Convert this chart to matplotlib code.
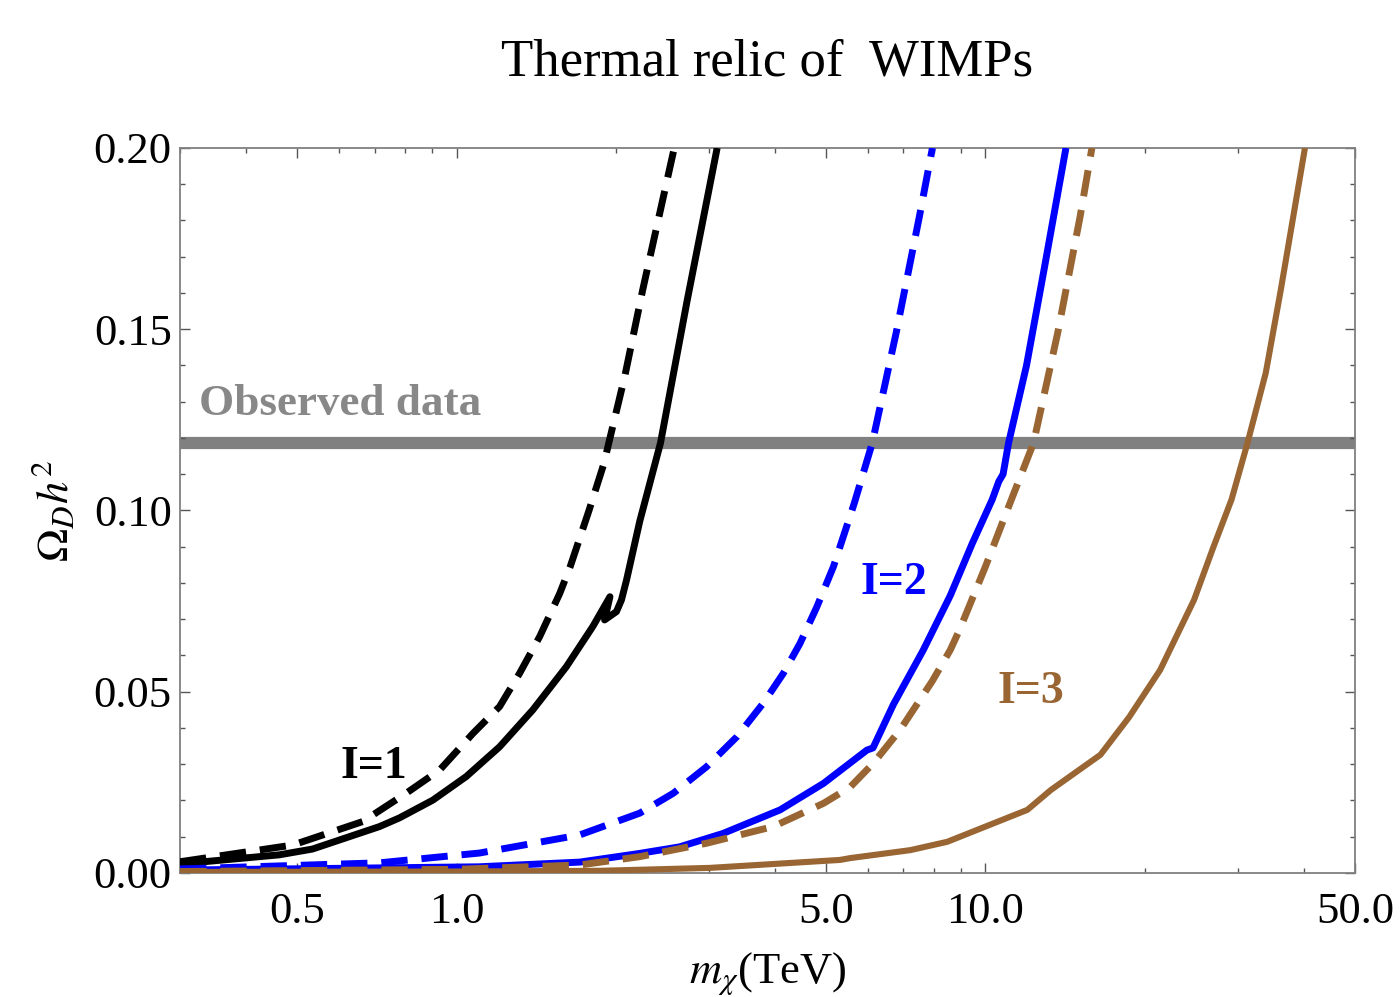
import matplotlib
matplotlib.use('Agg')
import matplotlib.pyplot as plt
import matplotlib.ticker as mticker
import numpy as np

plt.rcParams['font.family'] = ['Liberation Serif', 'DejaVu Serif']
plt.rcParams['mathtext.fontset'] = 'stix'

# --- data (m_chi in TeV, Omega h^2) ---
# I=1
m_i1_dash = [0.30, 0.49, 0.665, 0.803, 0.929, 1.074, 1.206, 1.316, 1.436, 1.567, 1.64, 1.78, 1.90, 1.94, 2.08, 2.25, 2.58]
o_i1_dash = [0.0031, 0.0077, 0.0142, 0.022, 0.0284, 0.0385, 0.0459, 0.0551, 0.0652, 0.0771, 0.0845, 0.100, 0.113, 0.1186, 0.137, 0.161, 0.200]
m_i1_sol = [0.30, 0.462, 0.534, 0.715, 0.780, 0.902, 1.043, 1.206, 1.394, 1.613, 1.81, 1.95, 1.905, 2.006, 2.05, 2.096, 2.22, 2.43, 2.73, 3.11]
o_i1_sol = [0.0025, 0.0050, 0.0066, 0.0128, 0.0152, 0.0201, 0.0266, 0.0348, 0.045, 0.0569, 0.068, 0.0762, 0.0698, 0.0721, 0.0753, 0.0808, 0.097, 0.1186, 0.158, 0.200]
# I=2
m_i2_dash = [0.30, 0.715, 1.105, 1.71, 2.22, 2.57, 2.97, 3.39, 3.80, 4.15, 4.46, 4.80, 5.16, 5.65, 6.11, 6.78, 7.50, 7.94]
o_i2_dash = [0.0011, 0.0028, 0.0055, 0.0105, 0.0165, 0.022, 0.0293, 0.0376, 0.0468, 0.0551, 0.0633, 0.0734, 0.0845, 0.102, 0.1186, 0.149, 0.181, 0.200]
m_i2_sol = [0.30, 1.1, 1.71, 2.22, 2.64, 3.19, 4.09, 4.94, 5.97, 6.13, 6.70, 7.63, 8.58, 9.45, 10.3, 10.6, 10.8, 11.06, 11.96, 12.93, 14.2]
o_i2_sol = [0.0008, 0.0017, 0.0030, 0.0054, 0.0072, 0.0109, 0.0174, 0.0247, 0.0339, 0.0345, 0.0465, 0.0615, 0.0765, 0.091, 0.103, 0.108, 0.110, 0.1186, 0.140, 0.167, 0.200]
# I=3
m_i3_dash = [0.30, 1.0, 1.71, 2.22, 2.97, 3.97, 4.94, 5.55, 6.14, 6.90, 7.94, 8.58, 8.93, 10.0, 11.06, 12.33, 13.7, 15.1, 15.9]
o_i3_dash = [0.0004, 0.0010, 0.0022, 0.0045, 0.0082, 0.0128, 0.0192, 0.0237, 0.0303, 0.0395, 0.053, 0.0615, 0.067, 0.0845, 0.101, 0.1186, 0.149, 0.181, 0.200]
m_i3_sol = [0.30, 1.0, 1.866, 3.01, 5.31, 5.55, 7.21, 8.47, 12.0, 13.3, 16.5, 18.7, 21.4, 24.8, 27.0, 29.2, 31.3, 33.9, 36.2, 40.2]
o_i3_sol = [0.0003, 0.0004, 0.0006, 0.0014, 0.0036, 0.0041, 0.0063, 0.0086, 0.0174, 0.0229, 0.0326, 0.043, 0.056, 0.0753, 0.090, 0.103, 0.1186, 0.138, 0.161, 0.200]

obs_value = 0.1186
x_major = [0.5, 1.0, 5.0, 10.0, 50.0]
y_major = [0.00, 0.05, 0.10, 0.15, 0.20]

brown = '#996633'
blue = '#0000ff'

fig = plt.figure(figsize=(14, 9.97), dpi=100)
ax = fig.add_axes([0.1286, 0.1244, 0.8393, 0.7272])

# observed band
ax.axhline(obs_value, color='#808080', lw=8.8, zorder=1)

lw = 5.0
dash = (3.8, 2.0)
style = dict(solid_joinstyle='round', solid_capstyle='butt', zorder=3)
ax.plot(m_i1_dash, o_i1_dash, color='black', lw=lw, dashes=dash, **style)
ax.plot(m_i1_sol, o_i1_sol, color='black', lw=lw, **style)
ax.plot(m_i2_dash, o_i2_dash, color=blue, lw=lw, dashes=dash, **style)
ax.plot(m_i2_sol, o_i2_sol, color=blue, lw=lw, **style)
ax.plot(m_i3_dash, o_i3_dash, color=brown, lw=lw, dashes=dash, **style)
ax.plot(m_i3_sol, o_i3_sol, color=brown, lw=4.4, **style)

ax.set_xscale('log')
ax.set_xlim(0.3, 50)
ax.set_ylim(0, 0.2)

ax.xaxis.set_major_locator(mticker.FixedLocator(x_major))
ax.xaxis.set_major_formatter(mticker.FuncFormatter(lambda v, p: '%.1f' % v))
ax.xaxis.set_minor_locator(mticker.LogLocator(base=10, subs=np.arange(2, 10)))
ax.xaxis.set_minor_formatter(mticker.NullFormatter())
ax.yaxis.set_major_locator(mticker.FixedLocator(y_major))
ax.yaxis.set_major_formatter(mticker.FuncFormatter(lambda v, p: '%.2f' % v))
ax.yaxis.set_minor_locator(mticker.MultipleLocator(0.01))

ax.tick_params(which='both', direction='in', top=True, right=True, color='#555555', width=1)
ax.tick_params(which='major', length=7.5, labelsize=32)
ax.tick_params(axis='x', which='major', pad=14)
ax.tick_params(axis='y', which='major', pad=6)
ax.tick_params(which='minor', length=3.8)
for s in ax.spines.values():
    s.set_color('#808080')
    s.set_linewidth(1.3)

ax.set_title('Thermal relic of  WIMPs', fontsize=38, pad=52)
ax.set_xlabel(r'$m_\chi$(TeV)', fontsize=32)
ax.set_ylabel(r'$\Omega_D h^2$', fontsize=32)
ax.xaxis.set_label_coords(0.5, -0.106)
ax.yaxis.set_label_coords(-0.088, 0.5)

ax.text(0.326, 0.1294, 'Observed data', color='#888888', fontsize=32.5, fontweight='bold',
        ha='left', va='center')
ax.text(0.699, 0.0292, 'I=1', color='black', fontsize=33, fontweight='bold', ha='center', va='center')
ax.text(6.70, 0.080, 'I=2', color=blue, fontsize=33, fontweight='bold', ha='center', va='center')
ax.text(12.17, 0.0499, 'I=3', color=brown, fontsize=33, fontweight='bold', ha='center', va='center')

fig.savefig('out.png', dpi=100)
